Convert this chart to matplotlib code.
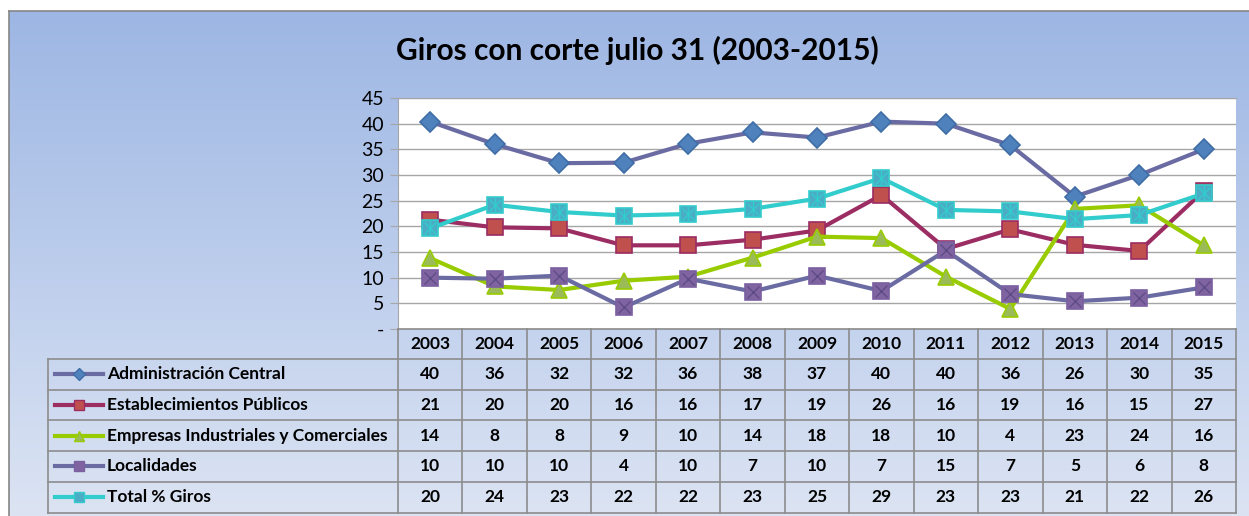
import matplotlib.pyplot as plt
import numpy as np
from matplotlib.colors import LinearSegmentedColormap

plt.rcParams['font.family'] = ['Lato', 'DejaVu Sans']

# data (plotted values; the table shows them rounded)
years = ['2003', '2004', '2005', '2006', '2007', '2008', '2009',
         '2010', '2011', '2012', '2013', '2014', '2015']
admin_central = [40.4, 36.0, 32.3, 32.4, 36.1, 38.3, 37.3, 40.4, 40.0, 35.8, 25.8, 30.0, 35.0]
establecimientos = [21.3, 19.8, 19.6, 16.3, 16.3, 17.4, 19.2, 26.1, 15.6, 19.4, 16.4, 15.2, 26.9]
empresas = [13.8, 8.3, 7.6, 9.4, 10.2, 13.9, 18.0, 17.7, 10.2, 3.9, 23.4, 24.1, 16.3]
localidades = [10.0, 9.8, 10.4, 4.2, 9.8, 7.3, 10.4, 7.4, 15.3, 6.8, 5.4, 6.1, 8.1]
total_giros = [19.6, 24.2, 22.8, 22.1, 22.4, 23.4, 25.4, 29.4, 23.2, 22.9, 21.4, 22.2, 26.4]
names = ['Administración Central', 'Establecimientos Públicos',
         'Empresas Industriales y Comerciales', 'Localidades', 'Total % Giros']
y_ticks = [0, 5, 10, 15, 20, 25, 30, 35, 40, 45]

# style per series: line colour, marker, face, edge, overlay marker
styles = [
    ('#6B6BA3', 'D', '#4F81BD', '#3F6DA5', None),
    ('#9B2D63', 's', '#C0504D', '#9B2D63', None),
    ('#99CC00', '^', '#9BBB59', '#99CC00', None),
    ('#6B6BA3', 's', '#8064A2', '#7A60A0', 'x'),
    ('#33CCCC', 's', '#4BACC6', '#33CCCC', '*'),
]
series = [admin_central, establecimientos, empresas, localidades, total_giros]

W, H = 1249, 516
fig = plt.figure(figsize=(W / 100, H / 100), dpi=100)
fig.patch.set_facecolor('white')

# gradient chart background
bg = fig.add_axes([9 / W, 0, 1 - 9 / W, (H - 11) / H])
cmap = LinearSegmentedColormap.from_list('bg', ['#9DB6E3', '#BCCDEC', '#DCE4F3'])
bg.imshow(np.linspace(0, 1, 256).reshape(-1, 1), aspect='auto', cmap=cmap,
          extent=[0, 1, 0, 1])
bg.set_xticks([])
bg.set_yticks([])
for side in ['right', 'bottom']:
    bg.spines[side].set_visible(False)
for side in ['left', 'top']:
    bg.spines[side].set_color('#868686')
    bg.spines[side].set_linewidth(1.2)

fig.text(637 / W, 1 - 50 / H, 'Giros con corte julio 31 (2003-2015)',
         ha='center', va='center', fontsize=21.5, fontweight='bold')

# plot area
x0, x1, ytop, ybot = 398, 1236, 98, 329
ax = fig.add_axes([x0 / W, 1 - ybot / H, (x1 - x0) / W, (ybot - ytop) / H])
ax.set_facecolor('white')
x = np.arange(len(years))
for vals, (lc, mk, fc, ec, over) in zip(series, styles):
    ax.plot(x, vals, color=lc, lw=3, marker=mk, ms=11.5 if mk != 'D' else 10.5,
            mfc=fc, mec=ec, mew=1.2, zorder=3)
    if over == 'x':
        ax.plot(x, vals, ls='none', marker='x', ms=9, mec='#5E4C86', mew=1, zorder=4)
    elif over == '*':
        ax.plot(x, vals, ls='none', marker='x', ms=9, mec='#33CCCC', mew=1, zorder=4)
        ax.plot(x, vals, ls='none', marker='|', ms=11, mec='#33CCCC', mew=1, zorder=4)
ax.set_xlim(-0.5, len(years) - 0.5)
ax.set_ylim(0, 45)
ax.set_yticks(y_ticks)
ax.set_yticklabels(['-' if t == 0 else str(t) for t in y_ticks], fontsize=14)
ax.set_xticks([])
ax.grid(axis='y', color='#A6A6A6', lw=1)
ax.set_axisbelow(True)
ax.tick_params(axis='y', length=6, color='#A6A6A6', pad=4)
for side in ['right', 'bottom']:
    ax.spines[side].set_visible(False)
ax.spines['left'].set_color('#A6A6A6')
ax.spines['top'].set_color('#A6A6A6')

# data table under the plot
tab = fig.add_axes([0, 0, 1, 1])
tab.set_xlim(0, W)
tab.set_ylim(H, 0)
tab.axis('off')
tab.patch.set_alpha(0)
gc = '#8C8C8C'
row_h = 30.7
hdr_top, hdr_bot = 329, 359
left = 48
cw = (x1 - x0) / len(years)
tab.plot([x0, x1], [hdr_top, hdr_top], color=gc, lw=1.2)
for i in range(len(series) + 1):
    yy = hdr_bot + i * row_h
    tab.plot([left, x1], [yy, yy], color=gc, lw=1.2)
bottom = hdr_bot + len(series) * row_h
tab.plot([left, left], [hdr_bot, bottom], color=gc, lw=1.2)
for j in range(len(years) + 1):
    xx = x0 + j * cw
    tab.plot([xx, xx], [hdr_top, bottom], color=gc, lw=1.2)
for j, yr in enumerate(years):
    tab.text(x0 + (j + 0.5) * cw, (hdr_top + hdr_bot) / 2, yr, ha='center',
             va='center', fontsize=12.5, fontweight='bold')
for i, (name, vals, (lc, mk, fc, ec, over)) in enumerate(zip(names, series, styles)):
    yc = hdr_bot + (i + 0.5) * row_h
    tab.plot([55, 103], [yc, yc], color=lc, lw=3)
    tab.plot([79], [yc], marker=mk, ms=7 if mk != 'D' else 6, mfc=fc, mec=ec, mew=1)
    tab.text(107, yc, name, ha='left', va='center', fontsize=12.5, fontweight='bold')
    for j, v in enumerate(vals):
        tab.text(x0 + (j + 0.5) * cw, yc, f'{v:.0f}', ha='center', va='center',
                 fontsize=12.5, fontweight='bold')

fig.savefig('out.png', dpi=100)
